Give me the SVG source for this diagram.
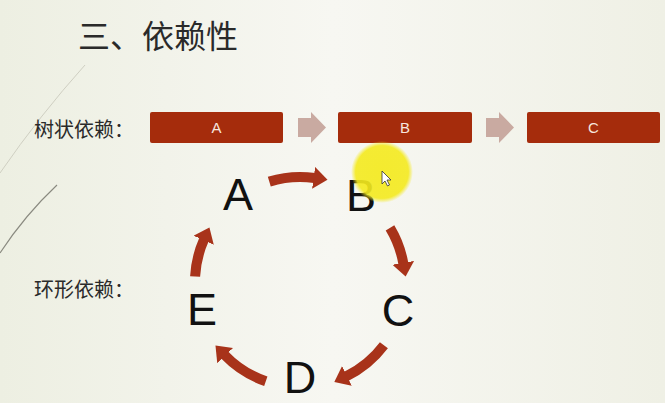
<svg xmlns="http://www.w3.org/2000/svg" width="665" height="403" viewBox="0 0 665 403">
<style>
.bar{fill:#a52c0c}
.bartxt{font-family:"Liberation Sans",Arial,sans-serif;font-size:15px;fill:#f6e6de;text-anchor:middle}
.cjk{font-family:"Noto Sans CJK SC","Noto Sans",sans-serif;fill:#2a2a2a}
.ring{font-family:"Liberation Sans",Arial,sans-serif;font-size:45px;fill:#111;text-anchor:middle}
.chev{fill:#c9aaa1}
.arc{fill:none;stroke:#a8331a;stroke-width:10;marker-end:url(#head)}
</style>
<defs>
<linearGradient id="bg" x1="0" y1="0" x2="1" y2="0">
<stop offset="0" stop-color="#edefe2"/>
<stop offset="0.5" stop-color="#f7f7f2"/>
<stop offset="1" stop-color="#eff0e5"/>
</linearGradient>
<radialGradient id="spot">
<stop offset="0" stop-color="#f4ea1e" stop-opacity="0.92"/>
<stop offset="0.85" stop-color="#f4ea1e" stop-opacity="0.9"/>
<stop offset="1" stop-color="#f4ea1e" stop-opacity="0"/>
</radialGradient>
<marker id="head" markerUnits="userSpaceOnUse" markerWidth="15" markerHeight="22" refX="1" refY="11" orient="auto">
<path d="M0,0 L14,11 L0,22 z" fill="#a8331a"/>
</marker>
</defs>
<rect width="665" height="403" fill="url(#bg)"/>
<path d="M0,173 Q40,115 85,65" fill="none" stroke="#cfcfc2" stroke-width="1"/>
<path d="M0,253 Q25,215 57,185" fill="none" stroke="#8a8a80" stroke-width="1.2"/>

<text class="cjk" x="78" y="48" font-size="32" fill="#333">三、依赖性</text>
<text class="cjk" x="34" y="137" font-size="20">树状依赖：</text>
<text class="cjk" x="34" y="297" font-size="20">环形依赖：</text>

<g id="tree-A"><rect class="bar" x="150" y="112" width="133" height="31" rx="2"/><text class="bartxt" x="216.5" y="133">A</text></g>
<g id="tree-B"><rect class="bar" x="338" y="112" width="134" height="31" rx="2"/><text class="bartxt" x="405" y="133">B</text></g>
<g id="tree-C"><rect class="bar" x="527" y="112" width="133" height="31" rx="2"/><text class="bartxt" x="593.5" y="133">C</text></g>

<g id="ring-A"><text class="ring" x="238" y="210">A</text></g>
<g id="ring-B"><text class="ring" x="361" y="211">B</text></g>
<g id="ring-C"><text class="ring" x="398" y="326">C</text></g>
<g id="ring-D"><text class="ring" x="300" y="393" font-size="43">D</text></g>
<g id="ring-E"><text class="ring" x="202" y="325">E</text></g>

<g id="connectors">
<polygon class="chev" points="298,118 311,118 311,112 326,127.5 311,143 311,137 298,137"/>
<polygon class="chev" points="486,118 499,118 499,112 514,127.5 499,143 499,137 486,137"/>
<path class="arc" d="M269.3,181.6 A105,105 0 0 1 314.6,178"/>
<path class="arc" d="M390,227.9 A105,105 0 0 1 403.4,263.8"/>
<path class="arc" d="M383.9,345.2 A105,105 0 0 1 346,376.4"/>
<path class="arc" d="M265.8,381.3 A105,105 0 0 1 224.5,354.9"/>
<path class="arc" d="M195.1,276.5 A105,105 0 0 1 204.1,239.3"/>
</g>

<circle cx="382" cy="172" r="31" fill="url(#spot)"/>
<path d="M382,171 L382,184 L385,181 L387.5,186 L389.5,185 L387,180 L391,180 z" fill="#fff" stroke="#333" stroke-width="0.8"/>
</svg>
